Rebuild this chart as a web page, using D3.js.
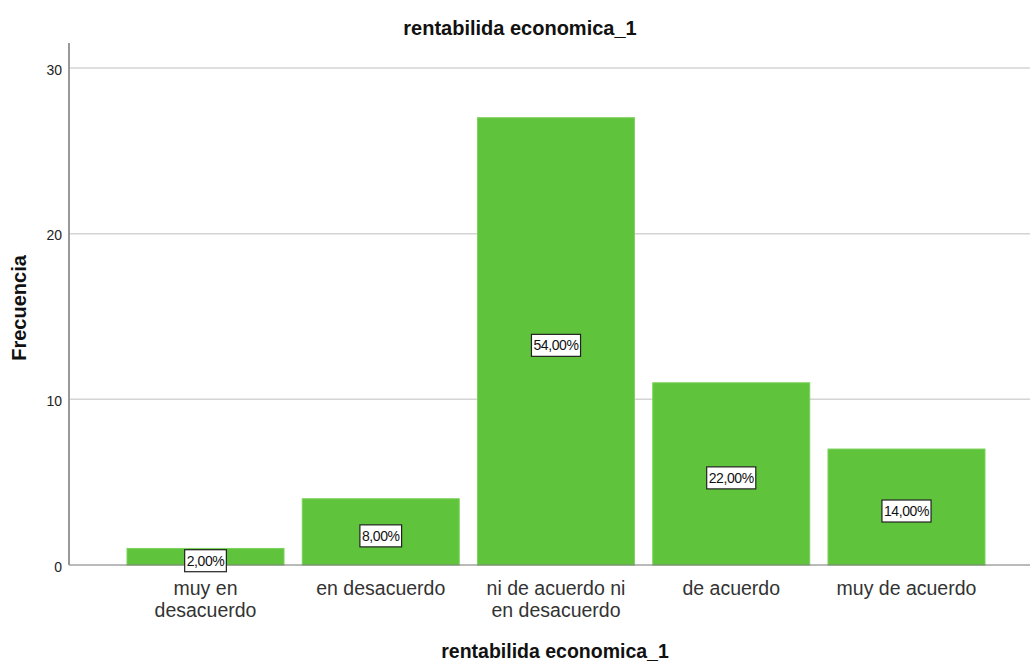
<!DOCTYPE html>
<html>
<head>
<meta charset="utf-8">
<script src="https://cdn.jsdelivr.net/npm/d3@7"></script>
<style>
  html, body { margin: 0; padding: 0; background: #fff; }
  svg { display: block; font-family: Arial, "Liberation Sans", sans-serif; }
</style>
</head>
<body>
<svg id="chart" width="1030" height="664"></svg>
<script>
// Frequency of answers for "rentabilida economica_1"
const categories = [
  ["muy en", "desacuerdo"],
  ["en desacuerdo"],
  ["ni de acuerdo ni", "en desacuerdo"],
  ["de acuerdo"],
  ["muy de acuerdo"]
];
const counts = [1, 4, 27, 11, 7];
const percentLabels = ["2,00%", "8,00%", "54,00%", "22,00%", "14,00%"];
const yTicks = [0, 10, 20, 30];

const svg = d3.select("#chart");
const plot = { left: 69, right: 1030, top: 43, bottom: 565 };

const keys = categories.map((c, i) => i);
const x = d3.scaleBand()
  .domain(keys)
  .range([127, 985])
  .paddingInner(0.104)
  .paddingOuter(0);

const y = d3.scaleLinear()
  .domain([0, 30])
  .range([plot.bottom, 68]);

// horizontal grid lines
svg.append("g")
  .selectAll("line")
  .data(yTicks.filter(t => t > 0))
  .join("line")
  .attr("x1", plot.left)
  .attr("x2", plot.right)
  .attr("y1", d => y(d))
  .attr("y2", d => y(d))
  .attr("stroke", "#d4d4d4")
  .attr("stroke-width", 1.5);

// bars
svg.append("g")
  .selectAll("rect")
  .data(counts)
  .join("rect")
  .attr("x", (d, i) => x(i))
  .attr("width", x.bandwidth())
  .attr("y", d => y(d))
  .attr("height", d => y(0) - y(d))
  .attr("fill", "#5fc43b")
  .attr("stroke", "#7dd25e")
  .attr("stroke-width", 1);

// baseline
svg.append("line")
  .attr("x1", plot.left).attr("x2", plot.right)
  .attr("y1", y(0)).attr("y2", y(0))
  .attr("stroke", "#777").attr("stroke-width", 1.2);

// y axis
const yAxis = d3.axisLeft(y).tickValues(yTicks).tickSize(0).tickPadding(7);
const yg = svg.append("g")
  .attr("transform", `translate(${plot.left},0)`)
  .call(yAxis);
yg.select(".domain").remove();
yg.selectAll("text")
  .attr("font-size", 14)
  .attr("dy", "0.45em")
  .attr("fill", "#222")
  .attr("font-family", "Arial, 'Liberation Sans', sans-serif");
svg.append("line")
  .attr("x1", plot.left).attr("x2", plot.left)
  .attr("y1", plot.top).attr("y2", plot.bottom)
  .attr("stroke", "#999").attr("stroke-width", 2);

// category labels
const xg = svg.append("g");
categories.forEach((lines, i) => {
  const t = xg.append("text")
    .attr("x", x(i) + x.bandwidth() / 2)
    .attr("y", 595)
    .attr("text-anchor", "middle")
    .attr("font-size", 19.5)
    .attr("fill", "#333");
  lines.forEach((line, j) => {
    t.append("tspan")
      .attr("x", x(i) + x.bandwidth() / 2)
      .attr("dy", j === 0 ? 0 : 22)
      .text(line);
  });
});

// percentage labels in boxes
const lab = svg.append("g")
  .selectAll("g")
  .data(counts)
  .join("g")
  .attr("transform", (d, i) => `translate(${x(i) + x.bandwidth() / 2},${y(d / 2) + 4})`);
lab.each(function(d, i) {
  const g = d3.select(this);
  const txt = g.append("text")
    .attr("text-anchor", "middle")
    .attr("dominant-baseline", "central")
    .attr("font-size", 14)
    .attr("fill", "#111")
    .attr("letter-spacing", -0.4)
    .text(percentLabels[i]);
  const bb = txt.node().getBBox();
  g.insert("rect", "text")
    .attr("x", bb.x - 2)
    .attr("y", -11)
    .attr("width", bb.width + 4)
    .attr("height", 22)
    .attr("fill", "#fff")
    .attr("stroke", "#222")
    .attr("stroke-width", 1.2);
});

// titles
svg.append("text")
  .attr("x", 520).attr("y", 35)
  .attr("text-anchor", "middle")
  .attr("font-size", 20).attr("font-weight", "bold")
  .attr("fill", "#111")
  .text("rentabilida economica_1");

svg.append("text")
  .attr("x", 555).attr("y", 658)
  .attr("text-anchor", "middle")
  .attr("font-size", 19.5).attr("font-weight", "bold")
  .attr("fill", "#111")
  .text("rentabilida economica_1");

svg.append("text")
  .attr("transform", "translate(26,308) rotate(-90)")
  .attr("text-anchor", "middle")
  .attr("font-size", 20).attr("font-weight", "bold")
  .attr("fill", "#111")
  .text("Frecuencia");
</script>
</body>
</html>
